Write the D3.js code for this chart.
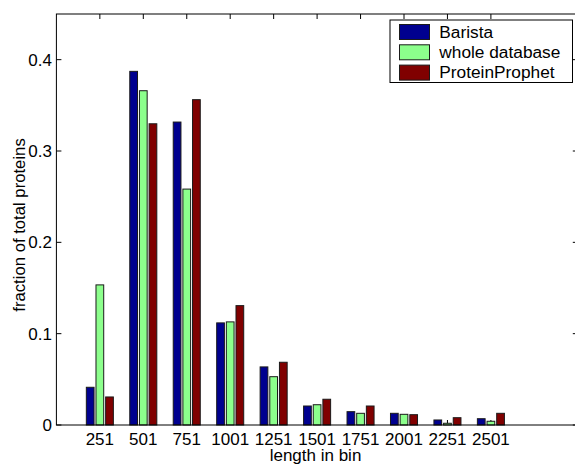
<!DOCTYPE html>
<html>
<head>
<meta charset="utf-8">
<script src="https://cdn.jsdelivr.net/npm/d3@7"></script>
<style>
  html, body { margin: 0; padding: 0; background: #fff; }
  svg { display: block; font-family: "Liberation Sans", Arial, Helvetica, sans-serif; }
</style>
</head>
<body>
<svg id="chart" width="575" height="466"></svg>
<script>
// Protein length bins (bin start) and the fraction of proteins in each bin
const categories = ["251", "501", "751", "1001", "1251", "1501", "1751", "2001", "2251", "2501"];
const seriesNames = ["Barista", "whole database", "ProteinProphet"];
const barista = [0.0413, 0.3872, 0.3317, 0.1118, 0.0636, 0.0208, 0.0146, 0.0128, 0.0055, 0.0069];
const wholeDatabase = [0.1534, 0.3660, 0.2583, 0.1129, 0.0529, 0.0222, 0.0128, 0.0117, 0.0019, 0.0041];
const proteinProphet = [0.0307, 0.3298, 0.3562, 0.1307, 0.0687, 0.0282, 0.0208, 0.0113, 0.0080, 0.0128];
const yTicks = [0, 0.1, 0.2, 0.3, 0.4];
const seriesColors = ["#00008f", "#8cff8c", "#800000"];

const series = [barista, wholeDatabase, proteinProphet];

const svg = d3.select("#chart");
const plotLeft = 56.4, plotRight = 577.8, plotTop = 14, plotBottom = 425;

// categories sit at positions 1..10 on a numeric axis spanning 0..12
const x = d3.scaleLinear().domain([0, 12]).range([plotLeft, plotRight]);
const y = d3.scaleLinear().domain([0, 0.45]).range([plotBottom, plotTop]);

const nSeries = series.length;
const groupWidth = Math.min(0.8, nSeries / (nSeries + 1.5));
const step = groupWidth / nSeries;
const barW = step * 0.8;
const pos = categories.map((c, i) => i + 1);

// tick marks (drawn beneath the bars)
const tickLen = 5;
const axisG = svg.append("g").attr("stroke", "#000").attr("stroke-width", 1);
pos.forEach(p => {
  axisG.append("line").attr("x1", x(p)).attr("x2", x(p)).attr("y1", plotBottom).attr("y2", plotBottom - tickLen);
  axisG.append("line").attr("x1", x(p)).attr("x2", x(p)).attr("y1", plotTop).attr("y2", plotTop + tickLen);
});
yTicks.forEach(t => {
  axisG.append("line").attr("x1", plotLeft).attr("x2", plotLeft + tickLen).attr("y1", y(t)).attr("y2", y(t));
  axisG.append("line").attr("x1", plotRight).attr("x2", plotRight - tickLen).attr("y1", y(t)).attr("y2", y(t));
});

// bars
series.forEach((vals, s) => {
  const off = (s - (nSeries - 1) / 2) * step;
  svg.append("g").selectAll("rect").data(vals).join("rect")
    .attr("x", (d, i) => x(pos[i] + off - barW / 2))
    .attr("width", x(barW) - x(0))
    .attr("y", d => y(d))
    .attr("height", d => y(0) - y(d))
    .attr("fill", seriesColors[s])
    .attr("stroke", "#1a1a1a")
    .attr("stroke-width", 1);
});

// axes box
svg.append("rect")
  .attr("x", plotLeft).attr("y", plotTop)
  .attr("width", plotRight - plotLeft).attr("height", plotBottom - plotTop)
  .attr("fill", "none").attr("stroke", "#000").attr("stroke-width", 1);

// tick labels
svg.append("g").selectAll("text").data(categories).join("text")
  .attr("x", (d, i) => x(pos[i]))
  .attr("y", 445)
  .attr("text-anchor", "middle")
  .attr("font-size", 17)
  .text(d => d);

svg.append("g").selectAll("text").data(yTicks).join("text")
  .attr("x", 52)
  .attr("y", d => y(d) + 6)
  .attr("text-anchor", "end")
  .attr("font-size", 17)
  .text(d => d === 0 ? "0" : d3.format(".1f")(d));

// axis titles
svg.append("text")
  .attr("x", (56 + 575) / 2)
  .attr("y", 461)
  .attr("text-anchor", "middle")
  .attr("font-size", 17)
  .text("length in bin");

svg.append("text")
  .attr("transform", "translate(25,225) rotate(-90)")
  .attr("text-anchor", "middle")
  .attr("font-size", 16.7)
  .text("fraction of total proteins");

// legend
const lg = svg.append("g");
lg.append("rect")
  .attr("x", 390).attr("y", 20).attr("width", 182.5).attr("height", 62.5)
  .attr("fill", "#fff").attr("stroke", "#000").attr("stroke-width", 1);
seriesNames.forEach((name, s) => {
  const yy = 24.5 + s * 20.3;
  lg.append("rect")
    .attr("x", 399.5).attr("y", yy).attr("width", 30).attr("height", 15)
    .attr("fill", seriesColors[s]).attr("stroke", "#1a1a1a").attr("stroke-width", 1);
  lg.append("text")
    .attr("x", 439.3).attr("y", yy + 13)
    .attr("font-size", 17.3)
    .text(name);
});
</script>
</body>
</html>
